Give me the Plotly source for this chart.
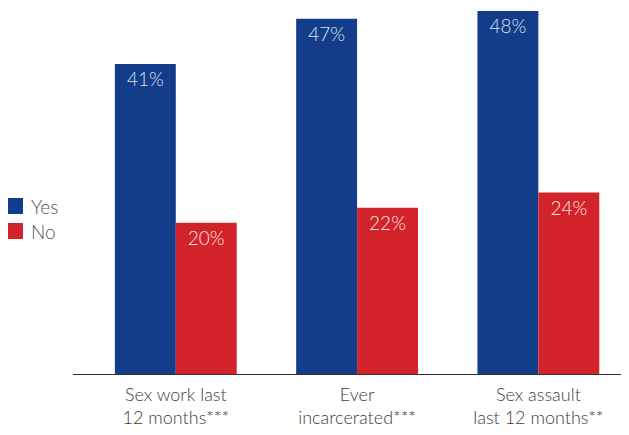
import plotly.graph_objects as go

categories = ["Sex work last<br>12 months***", "Ever<br>incarcerated***", "Sex assault<br>last 12 months**"]
yes_values = [41, 47, 48]
no_values = [20, 22, 24]
series_names = ["Yes", "No"]

BLUE = "#133d8b"
RED = "#d2232a"
FONT = "Lato"

L, R, T, B, W, H = 65, 8, 0, 69, 629, 435
PW, PH = W - L - R, H - T - B

def px_x(fx):
    return (fx - L) / PW

def px_y(fy):
    return 1 - (fy - T) / PH

fig = go.Figure()
series = [(series_names[0], yes_values, BLUE, "#dce3f0"),
          (series_names[1], no_values, RED, "#fbe3e3")]
for name, vals, col, tcol in series:
    fig.add_trace(go.Bar(
        x=categories, y=vals, name=name, marker_color=col, marker_line_width=0,
        text=[f"{v}%" for v in vals], textposition="inside", insidetextanchor="end",
        textfont=dict(color=tcol, size=19, family=FONT, weight=300),
        textangle=0, showlegend=False,
    ))

# custom legend (square swatch + label), placed left of the plot area
for i, (name, vals, col, tcol) in enumerate(series):
    cy = 198 + 25 * i  # swatch center in figure px
    fig.add_shape(type="rect", xref="paper", yref="paper",
                  x0=px_x(0), x1=px_x(15), y0=px_y(cy - 8), y1=px_y(cy + 8),
                  fillcolor=col, line_width=0)
    fig.add_annotation(xref="paper", yref="paper", x=px_x(21), y=px_y(cy),
                       xanchor="left", yanchor="middle", showarrow=False,
                       text=name, font=dict(size=19, color="#555", family=FONT, weight=300))

fig.update_layout(
    width=W, height=H,
    margin=dict(l=L, r=R, t=T, b=B),
    plot_bgcolor="white", paper_bgcolor="white",
    barmode="group", bargap=0.328, bargroupgap=0,
    font=dict(family=FONT, color="#3d3d3d"),
    showlegend=False,
    xaxis=dict(range=[-0.567, 2.5], showline=True, linecolor="#333", linewidth=1,
               ticks="", ticklabelstandoff=4,
               tickfont=dict(size=18, color="#3d3d3d", family=FONT, weight=300),
               showgrid=False, fixedrange=True),
    yaxis=dict(range=[0, 48.41], visible=False, showgrid=False, zeroline=False),
)

fig.write_html("out.html")
